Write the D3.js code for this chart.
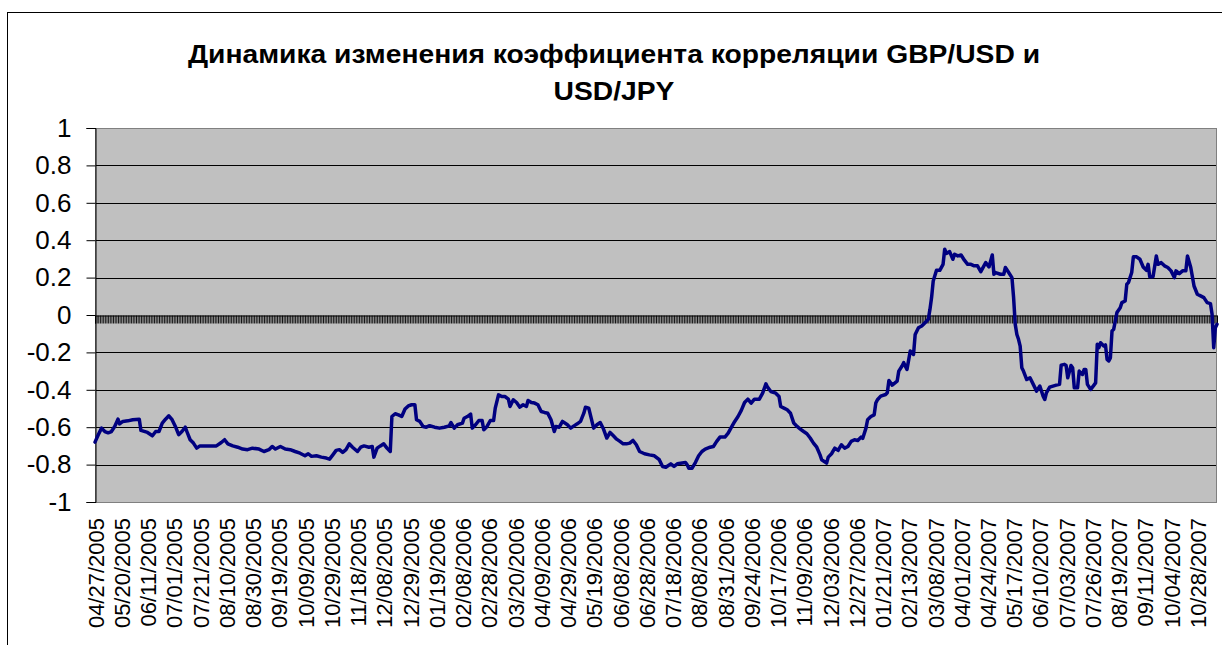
<!DOCTYPE html>
<html><head><meta charset="utf-8">
<script src="https://cdn.jsdelivr.net/npm/d3@7"></script>
<style>body{margin:0;background:#fff;overflow:hidden}text{font-family:Arial,"Liberation Sans",sans-serif}</style>
</head><body>
<svg id="c" width="1222" height="645"></svg>
<script>
const titleLines = ["Динамика изменения коэффициента корреляции GBP/USD и", "USD/JPY"];
const dateLabels = ["04/27/2005","05/20/2005","06/11/2005","07/01/2005","07/21/2005","08/10/2005","08/30/2005","09/19/2005","10/09/2005","10/29/2005","11/18/2005","12/08/2005","12/29/2005","01/19/2006","02/08/2006","02/28/2006","03/20/2006","04/09/2006","04/29/2006","05/19/2006","06/08/2006","06/28/2006","07/18/2006","08/08/2006","08/31/2006","09/24/2006","10/17/2006","11/09/2006","12/03/2006","12/27/2006","01/21/2007","02/13/2007","03/08/2007","04/01/2007","04/24/2007","05/17/2007","06/10/2007","07/03/2007","07/26/2007","08/19/2007","09/11/2007","10/04/2007","10/28/2007"];
const yTicks = [1, 0.8, 0.6, 0.4, 0.2, 0, -0.2, -0.4, -0.6, -0.8, -1];
const categoryCount = 685;
const labelEvery = 16;
// [day index, correlation]
const observations = [
[0,-0.68],[2,-0.64],[4,-0.605],[6,-0.623],[8,-0.63],[10,-0.623],[12,-0.596],[14,-0.557],[15,-0.582],[17,-0.569],[20,-0.566],[23,-0.56],[27,-0.557],[28,-0.617],[32,-0.628],[35,-0.646],[37,-0.623],[39,-0.623],[41,-0.578],[43,-0.557],[45,-0.539],[47,-0.56],[49,-0.596],[51,-0.64],[53,-0.623],[55,-0.6],[56,-0.623],[58,-0.667],[60,-0.685],[62,-0.712],[64,-0.7],[67,-0.7],[70,-0.7],[74,-0.7],[77,-0.682],[79,-0.667],[81,-0.689],[84,-0.7],[87,-0.707],[90,-0.717],[93,-0.72],[96,-0.712],[100,-0.717],[103,-0.73],[106,-0.72],[108,-0.703],[110,-0.717],[113,-0.703],[116,-0.717],[119,-0.72],[122,-0.73],[125,-0.739],[128,-0.753],[130,-0.742],[132,-0.756],[135,-0.753],[138,-0.76],[141,-0.765],[143,-0.771],[145,-0.748],[147,-0.724],[149,-0.72],[151,-0.735],[153,-0.72],[155,-0.689],[157,-0.707],[160,-0.73],[162,-0.707],[164,-0.7],[167,-0.707],[169,-0.703],[170,-0.76],[172,-0.712],[174,-0.7],[176,-0.689],[178,-0.712],[180,-0.73],[181,-0.543],[183,-0.528],[185,-0.534],[187,-0.543],[189,-0.503],[191,-0.486],[193,-0.48],[195,-0.48],[196,-0.56],[198,-0.569],[200,-0.596],[202,-0.6],[204,-0.592],[207,-0.6],
[210,-0.605],[213,-0.6],[216,-0.593],[217,-0.575],[219,-0.605],[221,-0.587],[224,-0.578],[225,-0.552],[227,-0.543],[229,-0.53],[230,-0.605],[232,-0.587],[234,-0.564],[236,-0.564],[237,-0.614],[239,-0.596],[241,-0.564],[243,-0.564],[244,-0.498],[246,-0.427],[248,-0.436],[250,-0.436],[252,-0.45],[253,-0.489],[255,-0.453],[257,-0.468],[259,-0.493],[261,-0.48],[263,-0.489],[264,-0.457],[266,-0.468],[268,-0.471],[270,-0.48],[272,-0.516],[274,-0.521],[276,-0.525],[278,-0.56],[280,-0.623],[281,-0.596],[283,-0.6],[285,-0.569],[288,-0.587],[290,-0.605],[292,-0.593],[294,-0.582],[296,-0.569],[298,-0.525],[299,-0.493],[301,-0.498],[302,-0.534],[304,-0.605],[306,-0.587],[308,-0.575],[310,-0.61],[312,-0.658],[314,-0.628],[316,-0.646],[318,-0.664],[320,-0.676],[322,-0.689],[324,-0.689],[326,-0.685],[328,-0.671],[330,-0.694],[332,-0.73],[335,-0.742],[338,-0.748],[341,-0.753],[344,-0.774],[346,-0.81],[348,-0.814],[351,-0.796],[353,-0.81],[355,-0.796],[358,-0.792],[360,-0.789],[361,-0.801],[362,-0.819],[364,-0.819],[366,-0.789],[368,-0.753],[370,-0.73],[372,-0.717],[375,-0.707],[377,-0.703],[379,-0.676],[381,-0.653],[384,-0.653],[386,-0.632],[388,-0.6],[390,-0.569],[392,-0.543],[394,-0.51],[396,-0.468],[398,-0.45],[400,-0.471],[402,-0.45],[405,-0.45],[407,-0.418],[409,-0.368],[410,-0.386],[412,-0.409],[415,-0.418],[417,-0.436],[418,-0.489],[420,-0.498],[422,-0.507],[424,-0.525],[426,-0.578],[428,-0.596],[430,-0.61],[432,-0.623],[434,-0.635],[436,-0.658],[438,-0.685],[440,-0.707],[442,-0.748],[443,-0.774],[446,-0.792],[447,-0.76],[449,-0.742],[451,-0.712],[453,-0.724],[455,-0.694],[457,-0.712],[459,-0.703],[461,-0.676],[463,-0.667],[465,-0.671],[467,-0.653],[468,-0.66],[470,-0.605],[471,-0.56],[473,-0.543],[475,-0.534],[476,-0.471],[477,-0.453],[479,-0.434],
[482,-0.425],[483,-0.416],[484,-0.35],[486,-0.375],[489,-0.354],[490,-0.3],[492,-0.273],[493,-0.255],[495,-0.291],[497,-0.193],[499,-0.211],[500,-0.104],[502,-0.068],[504,-0.059],[506,-0.041],[508,-0.023],[509,0.03],[510,0.093],[511,0.182],[513,0.239],[515,0.239],[517,0.271],[518,0.352],[519,0.329],[521,0.339],[523,0.298],[524,0.325],[526,0.316],[528,0.321],[530,0.293],[532,0.271],[534,0.271],[536,0.263],[538,0.263],[540,0.232],[543,0.28],[545,0.257],[547,0.321],[548,0.218],[549,0.227],[552,0.218],[554,0.218],[555,0.254],[557,0.227],[559,0.2],[560,0.093],[561,-0.05],[562,-0.104],[563,-0.13],[564,-0.166],[565,-0.282],[566,-0.3],[568,-0.345],[570,-0.336],[572,-0.371],[574,-0.407],[576,-0.38],[578,-0.434],[579,-0.452],[580,-0.416],[582,-0.386],[584,-0.38],[586,-0.375],[588,-0.371],[589,-0.268],[591,-0.264],[592,-0.27],[593,-0.336],[595,-0.27],[596,-0.282],[597,-0.389],[599,-0.389],[600,-0.3],[602,-0.318],[603,-0.291],[604,-0.291],[605,-0.371],[607,-0.398],[609,-0.375],[610,-0.363],[611,-0.157],[612,-0.175],[613,-0.148],[615,-0.166],[616,-0.16],[617,-0.238],[618,-0.246],[619,-0.229],[620,-0.086],[621,-0.077],[622,-0.032],[623,0.013],[625,0.039],[626,0.066],[628,0.075],[629,0.164],[630,0.173],[632,0.227],[633,0.311],[635,0.311],[637,0.298],[639,0.257],[641,0.239],[642,0.271],[643,0.204],[645,0.204],[647,0.316],[648,0.271],[650,0.28],[652,0.263],[654,0.254],[656,0.236],[658,0.2],[659,0.236],[661,0.221],[663,0.236],[665,0.236],[666,0.316],[668,0.254],[670,0.155],[672,0.111],[674,0.102],[676,0.093],[678,0.066],[680,0.061],[681,0.004],[682,-0.175],[683,-0.068],[684,-0.05]
];

const svg = d3.select("#c");
const L = 95, R = 1217, T = 128, B = 502;
const x = d3.scaleLinear().domain([0, categoryCount - 1]).range([L, R]);
const y = d3.scaleLinear().domain([-1, 1]).range([B, T]);

// chart border
svg.append("rect").attr("x", 7.5).attr("y", 12.5).attr("width", 1300).attr("height", 700)
  .attr("fill", "#fff").attr("stroke", "#000").attr("stroke-width", 1);

// title (slightly wide, as in the original rendering)
const titleG = svg.append("g").attr("transform", "translate(614,0) scale(1.13,1)");
const title = titleG.append("text").attr("text-anchor", "middle").attr("font-weight", "bold")
  .attr("font-size", 25).attr("fill", "#000");
titleLines.forEach((t, i) => title.append("tspan").attr("x", 0).attr("y", 63 + i * 37).text(t));

// plot area
svg.append("rect").attr("x", L).attr("y", T).attr("width", R - L).attr("height", B - T)
  .attr("fill", "#c0c0c0");

// gridlines
svg.append("g").selectAll("line").data(yTicks.filter(v => v !== 1 && v !== -1 && v !== 0)).join("line")
  .attr("x1", L).attr("x2", R)
  .attr("y1", d => Math.round(y(d)) + 0.5).attr("y2", d => Math.round(y(d)) + 0.5)
  .attr("stroke", "#000").attr("stroke-width", 1);

// plot border
svg.append("rect").attr("x", L + 0.5).attr("y", Math.round(T) + 0.5).attr("width", R - L - 1).attr("height", B - T)
  .attr("fill", "none").attr("stroke", "#808080").attr("stroke-width", 1);

// x axis at zero with dense category ticks
const zeroY = Math.round(y(0)) + 0.5;
const xAxis = d3.axisBottom(x).tickValues(d3.range(categoryCount)).tickSize(8).tickFormat("");
const gx = svg.append("g").attr("transform", `translate(0,${zeroY})`).call(xAxis);
gx.select(".domain").attr("stroke", "#000");
gx.selectAll(".tick line").attr("stroke", "#000").attr("stroke-width", 0.9);

// y axis
const yAxis = d3.axisLeft(y).tickValues(yTicks).tickSize(9).tickPadding(15).tickFormat(d => String(d));
const gy = svg.append("g").attr("transform", `translate(${L + 0.5},0)`).call(yAxis);
gy.select(".domain").attr("stroke", "#000");
gy.selectAll(".tick line").attr("stroke", "#000");
gy.selectAll(".tick text").attr("font-size", 26).attr("fill", "#000")
  .attr("font-family", "Arial, 'Liberation Sans', sans-serif");

// date labels
const labelIdx = dateLabels.map((d, i) => i * labelEvery);
const labelAxis = d3.axisBottom(x).tickValues(labelIdx).tickSize(0)
  .tickFormat((d, i) => dateLabels[i]);
const gl = svg.append("g").attr("transform", `translate(0,${B})`).call(labelAxis);
gl.select(".domain").remove();
gl.selectAll(".tick text").attr("font-size", 22).attr("fill", "#000")
  .attr("font-family", "Arial, 'Liberation Sans', sans-serif")
  .attr("transform", "rotate(-90)").attr("text-anchor", "end")
  .attr("x", -16).attr("y", 0).attr("dy", "0.37em");

// line
const line = d3.line().x(d => x(d[0])).y(d => y(d[1]));
svg.append("path").datum(observations).attr("d", line)
  .attr("fill", "none").attr("stroke", "#000080").attr("stroke-width", 3.5)
  .attr("stroke-linejoin", "round").attr("stroke-linecap", "round");
</script>
</body></html>
